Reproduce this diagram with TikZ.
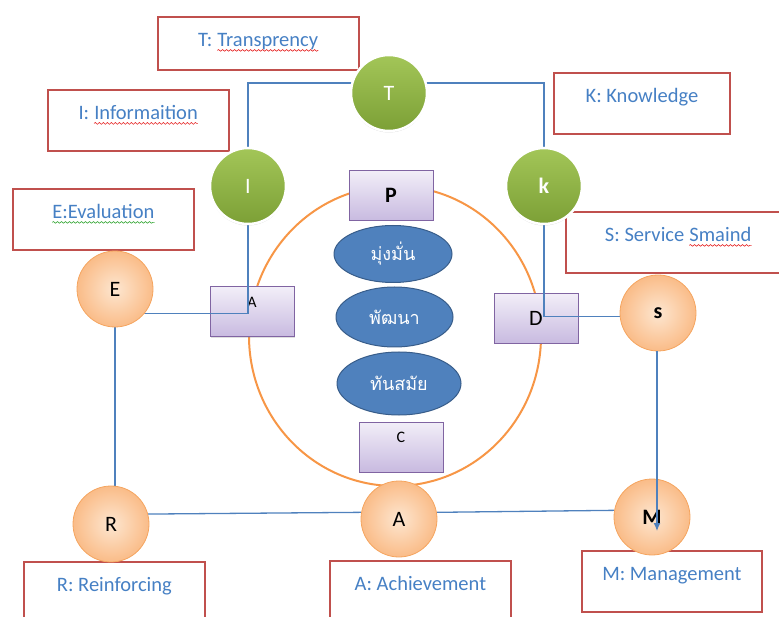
\documentclass[tikz,border=0pt]{standalone}
\usepackage{fontspec}
\setmainfont{Carlito}
\newfontfamily\thaifont[Script=Thai]{Loma}
\usetikzlibrary{shapes.geometric, arrows.meta, shadows, decorations.pathmorphing}

\pgfdeclarelayer{back}
\pgfdeclarelayer{mid}
\pgfsetlayers{back,mid,main}

\definecolor{defred}{RGB}{192,80,77}
\definecolor{deftext}{RGB}{70,128,196}
\definecolor{linkblue}{RGB}{79,129,189}
\definecolor{greentop}{RGB}{163,198,88}
\definecolor{greenbot}{RGB}{124,160,54}
\definecolor{peachin}{RGB}{253,230,208}
\definecolor{peachout}{RGB}{250,188,136}
\definecolor{peachedge}{RGB}{245,165,95}
\definecolor{ringorange}{RGB}{247,150,70}
\definecolor{paneledge}{RGB}{128,100,162}
\definecolor{paneltop}{RGB}{242,238,248}
\definecolor{panelbot}{RGB}{200,186,224}
\definecolor{valueblue}{RGB}{79,129,189}
\definecolor{valueedge}{RGB}{56,93,138}
\definecolor{spellred}{RGB}{230,40,40}
\definecolor{spellgreen}{RGB}{60,170,60}

\tikzset{
    wavebase/.style={draw=none, fill=none, minimum width=0pt, minimum height=0pt,
        text height=, text depth=, inner sep=0pt, anchor=base}
}
% Spell-check waves under words
\newcommand{\spellwave}[2]{\tikz[baseline=(w.base)]{\node[wavebase] (w) {#2};
    \draw[#1, line width=0.6pt, decorate, decoration={snake, amplitude=0.9pt, segment length=4pt}]
        ([yshift=-3.5pt]w.base west) -- ([yshift=-3.5pt]w.base east);}}

\begin{document}
\begin{tikzpicture}[
    x=1pt, y=-1pt,
    % Styles
    defbox/.style={ % Definition boxes
        draw=defred,
        line width=1.8pt,
        anchor=north west,
        minimum width=181pt,
        inner ysep=4pt,
        text height=26pt,
        text depth=#1,
        text=deftext,
        font=\fontsize{20.5}{24}\selectfont
    },
    defbox/.default=27pt,
    gnode/.style={ % Green letter circles
        circle,
        minimum size=76pt,
        inner sep=0pt,
        top color=greentop,
        bottom color=greenbot,
        draw=white,
        line width=2.5pt,
        text=white,
        font=\fontsize{22}{26}\selectfont,
        drop shadow={shadow xshift=0pt, shadow yshift=-1.5pt, opacity=0.3}
    },
    onode/.style={ % Orange letter circles
        circle,
        minimum size=76pt,
        inner sep=0pt,
        inner color=peachin,
        outer color=peachout,
        draw=peachedge,
        line width=0.8pt,
        font=\fontsize{22}{26}\selectfont
    },
    panel/.style={ % Purple boxes
        rectangle,
        minimum width=84pt,
        minimum height=50pt,
        draw=paneledge,
        line width=1pt,
        top color=paneltop,
        bottom color=panelbot,
        font=\fontsize{22}{26}\selectfont,
        drop shadow={shadow xshift=1pt, shadow yshift=-1pt, opacity=0.25}
    },
    toptext/.style={
        text height=11pt,
        text depth=20pt,
        font=\fontsize{16}{18}\selectfont
    },
    value/.style={ % Blue Thai ellipses
        ellipse,
        inner sep=0pt,
        draw=valueedge,
        line width=1pt,
        fill=valueblue,
        text=white,
        font=\thaifont\fontsize{18}{21}\selectfont
    },
    ring/.style={
        draw=ringorange,
        line width=2pt
    },
    link/.style={
        draw=linkblue,
        line width=1.3pt
    }
]
    \useasboundingbox (0,0) rectangle (779,617);

    % Definition boxes
    \node[defbox=19pt, minimum width=201pt] (tdef) at (157,16) {T: \spellwave{spellred}{Transprency}};
    \node[defbox] (idef) at (47,89) {I: \spellwave{spellred}{Informaition}};
    \node[defbox] (edef) at (12,188) {\spellwave{spellgreen}{E:Evaluation}};
    \node[defbox, minimum width=176pt] (kdef) at (553,72) {K: Knowledge};
    \node[defbox, minimum width=225pt] (sdef) at (565,211) {S: Service \spellwave{spellred}{Smaind}};
    \node[defbox] (rdef) at (23,561) {R: Reinforcing};
    \node[defbox] (adef) at (329,560) {A: Achievement};
    \node[defbox, minimum width=180pt] (mdef) at (581,550) {M: Management};

    % Letter circles
    \node[gnode] (T) at (389,93) {T};
    \node[gnode] (I) at (248,186) {I};
    \node[gnode] (k) at (544,186) {\bfseries k};
    \node[onode] (E) at (115,289) {E};
    \node[onode] (s) at (658,313) {\bfseries s};
    \node[onode] (R) at (111,524) {R};
    \node[onode] (A) at (399,519) {A};
    \node[onode] (M) at (652,517) {\bfseries M};

    % Centre: ring, boxes and values
    \begin{pgfonlayer}{back}
        \draw[ring] (395,336) ellipse [x radius=146, y radius=150];
        \node[panel] (P) at (391,195.5) {\bfseries P};
        \node[panel, toptext] (pa) at (252,312) {A};
        \node[panel] (pd) at (536,318.5) {D};
        \node[panel, toptext] (pc) at (401,447) {C};
        \node[value, minimum width=118pt, minimum height=57pt] (v1) at (393,254) {มุ่งมั่น};
        \node[value, minimum width=117pt, minimum height=60pt] (v2) at (394.5,317) {พัฒนา};
        \node[value, minimum width=124pt, minimum height=63pt] (v3) at (399,383.5) {ทันสมัย};
    \end{pgfonlayer}

    % Connectors
    \begin{pgfonlayer}{mid}
        \coordinate (topline) at (0,83);
        \draw[link] (I.center) -- (I.center |- topline) -- (k.center |- topline) -- (k.center);
        \draw[link] (I.center) |- (E.320);
        \draw[link] (E.center) -- (E.center |- R.center);
        \draw[link] (R.15) -- (A.170);
        \draw[link] (A.10) -- (M.170);
        \draw[link] (k.center) |- (s.185);
    \end{pgfonlayer}
    \coordinate (mtip) at (657,531);
    \draw[link, -{Latex[length=8pt, width=7pt]}] (s.270 -| mtip) -- (mtip);
\end{tikzpicture}
\end{document}
